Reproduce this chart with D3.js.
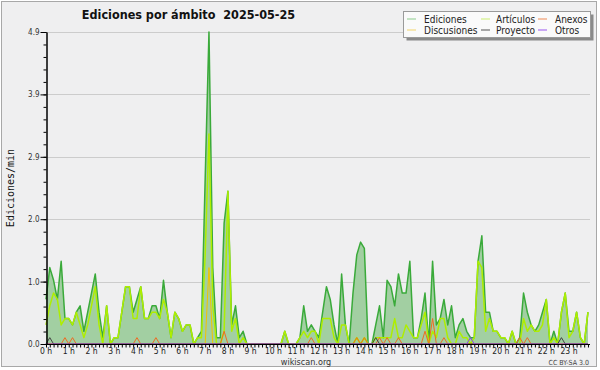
<!DOCTYPE html>
<html>
<head>
<meta charset="utf-8">
<script src="https://cdn.jsdelivr.net/npm/d3@7"></script>
<style>
    body { margin: 0; background: #ffffff; }
    text { font-family: "DejaVu Sans Condensed", "DejaVu Sans", sans-serif; font-stretch: condensed; }
</style>
</head>
<body>
<svg id="chart"></svg>
<script>
// one slot every 10 minutes, 144 per day
const slots = d3.range(144);
const hourLabels = ['0 h', '1 h', '2 h', '3 h', '4 h', '5 h', '6 h', '7 h', '8 h', '9 h', '10 h', '11 h',
    '12 h', '13 h', '14 h', '15 h', '16 h', '17 h', '18 h', '19 h', '20 h', '21 h', '22 h', '23 h'];
const yMax = 4.9;

const ediciones = [
    0.7, 1.2, 1.0, 0.7, 1.3, 0.4, 0.4, 0.3, 0.5, 0.6, 0.2, 0.5,
    0.8, 1.1, 0.5, 0.1, 0.6, 0.0, 0.1, 0.1, 0.5, 0.9, 0.9, 0.5,
    0.7, 0.9, 0.4, 0.4, 0.6, 0.6, 0.4, 1.0, 0.5, 0.1, 0.5, 0.4,
    0.2, 0.3, 0.3, 0.0, 0.1, 0.2, 2.6, 4.9, 1.2, 0.1, 0.1, 1.9,
    2.4, 0.3, 0.6, 0.1, 0.2, 0.0, 0.0, 0.0, 0.0, 0.0, 0.0, 0.0,
    0.0, 0.0, 0.0, 0.2, 0.0, 0.0, 0.0, 0.1, 0.6, 0.2, 0.3, 0.2,
    0.1, 0.5, 0.9, 0.7, 0.3, 0.0, 1.1, 0.3, 0.0, 0.8, 1.4, 1.6,
    1.5, 0.0, 0.0, 0.3, 0.6, 0.1, 1.0, 0.9, 0.6, 1.1, 0.8, 0.8,
    1.3, 0.1, 0.1, 0.4, 0.8, 0.0, 1.3, 0.3, 0.4, 0.7, 0.3, 0.6,
    0.1, 0.3, 0.4, 0.2, 0.1, 0.1, 1.3, 1.7, 0.5, 0.5, 0.2, 0.2,
    0.1, 0.1, 0.0, 0.2, 0.0, 0.1, 0.8, 0.5, 0.3, 0.2, 0.3, 0.5,
    0.7, 0.0, 0.2, 0.0, 0.5, 0.8, 0.2, 0.2, 0.5, 0.1, 0.0, 0.5
];
const articulos = [
    0.3, 0.6, 0.8, 0.7, 0.3, 0.4, 0.4, 0.3, 0.5, 0.3, 0.1, 0.3,
    0.6, 0.9, 0.3, 0.0, 0.6, 0.0, 0.1, 0.1, 0.5, 0.9, 0.9, 0.4,
    0.4, 0.9, 0.4, 0.4, 0.5, 0.5, 0.4, 0.7, 0.5, 0.1, 0.5, 0.4,
    0.2, 0.3, 0.3, 0.0, 0.1, 0.1, 1.4, 3.3, 0.6, 0.0, 0.0, 0.2,
    2.4, 0.2, 0.4, 0.0, 0.1, 0.0, 0.0, 0.0, 0.0, 0.0, 0.0, 0.0,
    0.0, 0.0, 0.0, 0.2, 0.0, 0.0, 0.0, 0.1, 0.2, 0.1, 0.2, 0.2,
    0.0, 0.4, 0.4, 0.4, 0.1, 0.0, 0.3, 0.3, 0.0, 0.0, 0.1, 0.0,
    0.1, 0.0, 0.0, 0.1, 0.1, 0.1, 0.1, 0.1, 0.4, 0.1, 0.1, 0.3,
    0.2, 0.1, 0.1, 0.3, 0.5, 0.0, 0.2, 0.1, 0.4, 0.4, 0.1, 0.0,
    0.0, 0.2, 0.1, 0.1, 0.0, 0.1, 1.3, 1.2, 0.2, 0.4, 0.2, 0.2,
    0.1, 0.1, 0.0, 0.2, 0.0, 0.0, 0.4, 0.2, 0.3, 0.2, 0.2, 0.3,
    0.7, 0.0, 0.1, 0.0, 0.5, 0.8, 0.1, 0.2, 0.5, 0.1, 0.0, 0.5
];
const discusiones = [
    0, 0, 0, 0, 0, 0, 0, 0, 0, 0, 0, 0,
    0, 0, 0, 0, 0, 0, 0, 0, 0, 0, 0, 0,
    0, 0, 0, 0, 0, 0, 0, 0, 0, 0, 0, 0,
    0, 0, 0, 0, 0, 0, 0, 1.2, 0, 0, 0, 0,
    0, 0, 0, 0, 0, 0, 0, 0, 0, 0, 0, 0,
    0, 0, 0, 0, 0, 0, 0, 0, 0, 0, 0, 0,
    0, 0, 0, 0, 0, 0, 0, 0, 0, 0, 0, 0,
    0, 0, 0, 0, 0, 0, 0, 0, 0, 0, 0, 0,
    0, 0, 0, 0, 0, 0, 0, 0, 0, 0, 0, 0,
    0, 0, 0, 0, 0, 0, 0, 0, 0, 0, 0, 0,
    0, 0, 0, 0, 0, 0, 0, 0, 0, 0, 0, 0,
    0, 0, 0, 0, 0, 0, 0, 0, 0, 0, 0, 0
];
const anexos = [
    0, 0, 0, 0, 0, 0.1, 0, 0.1, 0, 0, 0, 0,
    0, 0, 0, 0, 0, 0, 0, 0, 0, 0, 0, 0,
    0.1, 0, 0, 0, 0, 0.1, 0, 0, 0, 0, 0, 0,
    0, 0, 0, 0, 0, 0, 0, 0, 0, 0, 0, 0.2,
    0, 0, 0, 0, 0, 0, 0, 0, 0, 0, 0, 0,
    0, 0, 0, 0, 0, 0, 0, 0, 0, 0, 0.1, 0,
    0, 0, 0, 0, 0, 0, 0, 0, 0, 0, 0.1, 0,
    0.1, 0, 0, 0, 0.1, 0, 0.1, 0, 0, 0.1, 0, 0,
    0, 0, 0, 0, 0.2, 0, 0.4, 0, 0, 0.1, 0, 0,
    0, 0, 0, 0, 0, 0, 0, 0, 0, 0, 0, 0,
    0, 0, 0, 0, 0, 0.1, 0, 0.1, 0, 0, 0, 0,
    0, 0, 0, 0, 0, 0, 0, 0, 0, 0, 0, 0
];
const proyecto = [
    0, 0.1, 0, 0, 0, 0, 0, 0, 0, 0, 0, 0,
    0, 0, 0, 0, 0, 0, 0, 0, 0, 0, 0, 0,
    0, 0, 0, 0, 0, 0, 0, 0, 0, 0, 0, 0,
    0, 0, 0, 0, 0, 0, 0, 0, 0, 0, 0, 0,
    0, 0, 0, 0, 0, 0, 0, 0, 0, 0, 0, 0,
    0, 0, 0, 0, 0, 0, 0, 0, 0, 0, 0, 0,
    0, 0, 0, 0, 0, 0, 0, 0, 0, 0, 0, 0,
    0, 0, 0, 0.1, 0, 0, 0, 0, 0, 0, 0, 0,
    0, 0, 0, 0, 0, 0, 0, 0, 0, 0, 0, 0,
    0, 0, 0, 0, 0, 0, 0, 0, 0, 0, 0, 0,
    0, 0, 0, 0, 0, 0, 0, 0, 0, 0, 0, 0,
    0, 0, 0, 0, 0.1, 0, 0, 0, 0, 0, 0, 0
];
const otros = [
    0, 0, 0, 0, 0, 0, 0, 0, 0, 0, 0, 0,
    0, 0, 0, 0, 0, 0, 0, 0, 0, 0, 0, 0,
    0, 0, 0, 0, 0, 0, 0, 0, 0, 0, 0, 0,
    0, 0, 0, 0, 0, 0, 0, 0, 0, 0, 0, 0,
    0, 0, 0, 0, 0, 0, 0, 0, 0, 0, 0, 0,
    0, 0, 0, 0, 0, 0, 0, 0, 0, 0, 0, 0,
    0, 0, 0, 0, 0, 0, 0, 0, 0, 0, 0, 0,
    0, 0, 0, 0, 0, 0, 0, 0, 0, 0, 0, 0,
    0, 0, 0, 0, 0, 0, 0, 0, 0, 0, 0, 0,
    0, 0, 0, 0, 0.1, 0, 0, 0, 0, 0, 0, 0,
    0, 0, 0, 0, 0, 0, 0, 0, 0, 0, 0, 0,
    0, 0, 0, 0, 0, 0, 0, 0, 0, 0, 0, 0
];

// legend order: row by row
const legendNames = ['Ediciones', 'Artículos', 'Anexos', 'Discusiones', 'Proyecto', 'Otros'];


class ScopeChart {

    constructor(_config) {
        this.config = {
            parentElement: _config.parentElement,
            containerWidth: 600,
            containerHeight: 370,
            plotLeft: 46,
            plotRight: 590,
            plotTop: 32,
            plotBottom: 344,
            slotWidth: 3.79
        }
        this.series = [
            {name: 'Ediciones', values: ediciones, color: '#3aaa3a', legend: '#8ccc8c', width: 1.5},
            {name: 'Artículos', values: articulos, color: '#aeee00', legend: '#cbee70', width: 1.5},
            {name: 'Discusiones', values: discusiones, color: '#f2c400', legend: '#f2d46a', width: 1},
            {name: 'Anexos', values: anexos, color: '#f06a20', legend: '#f08a55', width: 1},
            {name: 'Proyecto', values: proyecto, color: '#404040', legend: '#555555', width: 1},
            {name: 'Otros', values: otros, color: '#8844ee', legend: '#9955ee', width: 1}
        ];
        this.initVis();
    }

    initVis() {
        let vis = this;
        const c = vis.config;

        vis.svg = d3.select(c.parentElement)
            .attr('width', c.containerWidth)
            .attr('height', c.containerHeight);

        // frame
        vis.svg.append('rect')
            .attr('x', 1.5).attr('y', 1.5)
            .attr('width', 595).attr('height', 365)
            .attr('fill', '#efeff0')
            .attr('stroke', '#a8a8a8');

        vis.xScale = d3.scaleLinear()
            .domain([0, 1])
            .range([c.plotLeft, c.plotLeft + c.slotWidth]);

        vis.yScale = d3.scaleLinear()
            .domain([0, yMax])
            .range([c.plotBottom, c.plotTop]);

        vis.majorTicks = d3.range(6).map(k => k * yMax / 5);
        vis.minorTicks = d3.range(26).map(k => k * yMax / 25);

        vis.chart = vis.svg.append('g');

        vis.updateVis();
    }

    updateVis() {
        let vis = this;
        vis.renderVis();
    }

    renderVis() {
        let vis = this;
        const c = vis.config;

        // horizontal grid
        vis.chart.selectAll('.grid')
            .data(vis.majorTicks.slice(1))
            .join('line')
            .attr('class', 'grid')
            .attr('x1', c.plotLeft)
            .attr('x2', c.plotRight)
            .attr('y1', d => Math.round(vis.yScale(d)) + 0.5)
            .attr('y2', d => Math.round(vis.yScale(d)) + 0.5)
            .attr('stroke', '#cccccc');

        // filled area under total edits
        const area = d3.area()
            .x((d, i) => vis.xScale(i))
            .y0(vis.yScale(0))
            .y1(d => vis.yScale(d));

        vis.chart.append('path')
            .datum(ediciones)
            .attr('d', area)
            .attr('fill', '#a2cfa2');

        const line = d3.line()
            .x((d, i) => vis.xScale(i))
            .y(d => vis.yScale(d));

        vis.chart.selectAll('.series')
            .data(vis.series)
            .join('path')
            .attr('class', 'series')
            .attr('d', d => line(d.values))
            .attr('fill', 'none')
            .attr('stroke', d => d.color)
            .attr('stroke-width', d => d.width)
            .attr('stroke-linejoin', 'round');

        // x axis: one tick per slot, labels per hour
        const xAxis = d3.axisBottom(vis.xScale)
            .tickValues(slots)
            .tickSize(3)
            .tickSizeOuter(0)
            .tickFormat('');

        const xAxisG = vis.chart.append('g')
            .attr('transform', `translate(0,${c.plotBottom + 0.5})`)
            .call(xAxis);
        xAxisG.select('.domain')
            .attr('d', `M${c.plotLeft},0H${c.plotRight}`)
            .attr('stroke', '#000');

        vis.chart.append('g')
            .selectAll('.hour-label')
            .data(hourLabels)
            .join('text')
            .attr('class', 'hour-label')
            .attr('x', (d, i) => vis.xScale(i * 6))
            .attr('y', 353.5)
            .attr('text-anchor', 'middle')
            .attr('font-size', 8.5)
            .attr('fill', '#222')
            .text(d => d);

        // y axis: minor ticks then labelled major ticks
        const yMinor = d3.axisLeft(vis.yScale)
            .tickValues(vis.minorTicks)
            .tickSize(3)
            .tickSizeOuter(0)
            .tickFormat('');
        vis.chart.append('g')
            .attr('transform', `translate(${c.plotLeft + 0.5},0)`)
            .call(yMinor)
            .select('.domain').attr('stroke', '#000');

        const yMajor = d3.axisLeft(vis.yScale)
            .tickValues(vis.majorTicks)
            .tickSize(6)
            .tickPadding(1)
            .tickSizeOuter(0)
            .tickFormat(d3.format('.1f'));
        const yMajorG = vis.chart.append('g')
            .attr('transform', `translate(${c.plotLeft + 0.5},0)`)
            .call(yMajor);
        yMajorG.selectAll('text')
            .attr('font-family', null)
            .attr('font-size', 8)
            .attr('fill', '#333');
        yMajorG.attr('font-family', null).attr('font-size', 8);

        // axis title
        vis.svg.append('text')
            .attr('transform', 'translate(13.5,188) rotate(-90)')
            .attr('text-anchor', 'middle')
            .style('font-family', '"DejaVu Sans Mono", monospace')
            .style('font-stretch', 'normal')
            .attr('font-size', 10)
            .attr('fill', '#111')
            .text('Ediciones/min');

        // title
        vis.svg.append('text')
            .attr('x', 188.5)
            .attr('y', 18.5)
            .attr('text-anchor', 'middle')
            .attr('font-size', 12.5)
            .attr('font-weight', 'bold')
            .attr('fill', '#111')
            .style('white-space', 'pre')
            .text('Ediciones por ámbito  2025-05-25');

        // legend
        const legend = vis.svg.append('g');
        legend.append('rect')
            .attr('x', 406.5).attr('y', 14.5)
            .attr('width', 187).attr('height', 26)
            .attr('fill', '#8a8a8a');
        legend.append('rect')
            .attr('x', 403.5).attr('y', 11.5)
            .attr('width', 187).attr('height', 26)
            .attr('fill', '#fafafa')
            .attr('stroke', '#9a9a9a');

        const swatchX = [407, 481, 538];
        const textX = [424, 496, 555];
        const rowY = [18.5, 29.5];
        const byName = {};
        vis.series.forEach(s => byName[s.name] = s);

        const items = legend.selectAll('.legend-item')
            .data(legendNames)
            .join('g')
            .attr('class', 'legend-item')
            .attr('transform', (d, i) => `translate(0,${rowY[Math.floor(i / 3)]})`);
        items.append('line')
            .attr('x1', (d, i) => swatchX[i % 3])
            .attr('x2', (d, i) => swatchX[i % 3] + 9)
            .attr('y1', 0.5).attr('y2', 0.5)
            .attr('stroke', d => byName[d].legend);
        items.append('text')
            .attr('x', (d, i) => textX[i % 3])
            .attr('y', 4)
            .attr('font-size', 10)
            .attr('fill', '#222')
            .text(d => d);

        // footer
        vis.svg.append('text')
            .attr('x', 306).attr('y', 364.5)
            .attr('text-anchor', 'middle')
            .attr('font-size', 9)
            .attr('fill', '#333')
            .text('wikiscan.org');
        vis.svg.append('text')
            .attr('x', 589).attr('y', 364.5)
            .attr('text-anchor', 'end')
            .attr('font-size', 7)
            .attr('fill', '#444')
            .text('CC BY-SA 3.0');
    }
}

let scopeChart = new ScopeChart({parentElement: '#chart'});
</script>
</body>
</html>
